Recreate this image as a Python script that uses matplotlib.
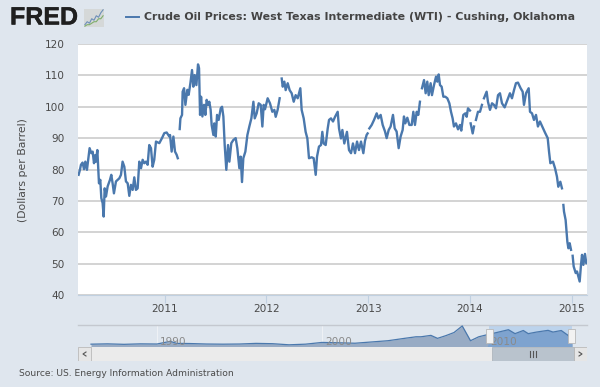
#!/usr/bin/env python3

import matplotlib
matplotlib.use("Agg")
import matplotlib.patheffects as pe
import matplotlib.pyplot as plt
from matplotlib.patches import Rectangle
import numpy as np

W, H = 600, 387
BG = "#dfe6ee"
LINE = "#4a78ad"
GRID = "#c8c8c8"
AXIS = "#c0d0e0"
TEXT = "#4a4a4a"

TITLE = "Crude Oil Prices: West Texas Intermediate (WTI) - Cushing, Oklahoma"
YLABEL = "(Dollars per Barrel)"
SOURCE = "Source: US. Energy Information Administration"

X_TICKS = [2011, 2012, 2013, 2014, 2015]
Y_TICKS = [40, 50, 60, 70, 80, 90, 100, 110, 120]
NAV_TICKS = [1990, 2000, 2010]

# nan where the line has a gap
YEARS_2010 = [2010.156, 2010.169, 2010.179, 2010.195, 2010.209, 2010.222, 2010.238, 2010.254, 2010.264, 2010.281,
              2010.294, 2010.307, 2010.320, 2010.326, 2010.340, 2010.349, 2010.356, 2010.369, 2010.379, 2010.392,
              2010.402, 2010.412, 2010.425, 2010.441, 2010.464, 2010.477, 2010.490, 2010.503, 2010.523, 2010.539,
              2010.556, 2010.572, 2010.588, 2010.605, 2010.621, 2010.638, 2010.654, 2010.670, 2010.687, 2010.703,
              2010.719, 2010.736, 2010.752, 2010.769, 2010.785, 2010.801, 2010.818, 2010.834, 2010.850, 2010.867,
              2010.883, 2010.899, 2010.916, 2010.949, 2010.975, 2010.998, 2011.021, 2011.047, 2011.054, 2011.070,
              2011.087, 2011.103, 2011.119, 2011.130, 2011.140]
PRICES_2010 = [78.3, 79.9, 81.5, 82.2, 80.1, 82.5, 79.9, 84.1, 86.8, 85.2,
               85.7, 82.0, 84.6, 82.5, 86.2, 79.9, 75.6, 76.7, 70.9, 69.3,
               65.0, 74.0, 71.4, 74.6, 76.7, 78.3, 75.6, 72.4, 76.2, 76.7,
               77.2, 78.3, 82.5, 80.9, 76.2, 75.6, 71.6, 75.1, 73.5, 77.5,
               73.5, 74.0, 82.5, 80.4, 83.1, 82.0, 82.5, 81.5, 87.8, 86.8,
               80.9, 83.1, 88.9, 88.4, 90.0, 91.6, 91.8, 90.5, 91.0, 85.7,
               90.5, 85.7, 84.7, 83.6, np.nan]

YEARS_2011 = [2011.149, 2011.156, 2011.172, 2011.178, 2011.192, 2011.205, 2011.224, 2011.237, 2011.254, 2011.270,
              2011.283, 2011.296, 2011.313, 2011.329, 2011.339, 2011.349, 2011.359, 2011.372, 2011.388, 2011.401,
              2011.414, 2011.427, 2011.440, 2011.453, 2011.463, 2011.480, 2011.489, 2011.503, 2011.516, 2011.532,
              2011.552, 2011.565, 2011.578, 2011.591, 2011.607, 2011.624, 2011.637, 2011.656, 2011.676, 2011.699,
              2011.715, 2011.735, 2011.748, 2011.761, 2011.774, 2011.794, 2011.814, 2011.833, 2011.853, 2011.873,
              2011.886, 2011.905, 2011.925, 2011.945, 2011.961, 2011.974, 2011.987, 2012.013, 2012.036, 2012.059,
              2012.079, 2012.092, 2012.111, 2012.131, 2012.141]
PRICES_2011 = [92.9, 96.3, 97.4, 104.8, 105.9, 100.6, 105.4, 103.8, 107.5, 111.7,
               106.4, 110.1, 106.9, 113.5, 112.3, 97.4, 103.2, 96.9, 100.6, 97.4,
               102.2, 100.6, 101.6, 99.0, 94.2, 91.0, 94.7, 90.5, 97.4, 95.8,
               99.5, 100.0, 96.9, 87.8, 79.9, 87.8, 82.5, 88.4, 89.4, 90.0,
               86.8, 80.4, 84.1, 76.0, 83.6, 85.7, 91.0, 93.7, 96.3, 101.6,
               96.3, 97.9, 101.1, 100.6, 93.7, 100.6, 99.2, 102.7, 101.1, 98.4,
               99.0, 96.8, 99.0, 102.7, np.nan]

YEARS_2012 = [2012.151, 2012.161, 2012.177, 2012.190, 2012.210, 2012.229, 2012.249, 2012.269, 2012.288, 2012.308,
              2012.334, 2012.347, 2012.367, 2012.386, 2012.403, 2012.419, 2012.445, 2012.465, 2012.485, 2012.498,
              2012.517, 2012.537, 2012.550, 2012.563, 2012.583, 2012.603, 2012.616, 2012.635, 2012.655, 2012.675,
              2012.701, 2012.714, 2012.733, 2012.747, 2012.766, 2012.792, 2012.812, 2012.832, 2012.851, 2012.871,
              2012.891, 2012.910, 2012.930, 2012.953, 2012.969, 2012.985, 2012.995, 2013.003]
PRICES_2012 = [109.0, 106.4, 108.0, 105.3, 107.5, 105.3, 104.3, 101.6, 103.7, 102.7,
               105.9, 99.0, 96.3, 92.0, 89.9, 83.6, 83.9, 83.6, 78.3, 84.1,
               87.3, 87.8, 92.0, 88.3, 87.8, 93.1, 95.8, 96.3, 95.3, 96.8,
               98.4, 93.1, 89.9, 92.6, 88.3, 92.0, 86.2, 85.2, 88.3, 85.2,
               88.9, 86.2, 88.9, 85.2, 89.1, 91.0, 91.5, np.nan]

YEARS_2013 = [2013.012, 2013.035, 2013.058, 2013.084, 2013.100, 2013.123, 2013.143, 2013.166, 2013.182, 2013.202,
              2013.221, 2013.244, 2013.261, 2013.280, 2013.300, 2013.319, 2013.339, 2013.352, 2013.365, 2013.385,
              2013.405, 2013.428, 2013.444, 2013.460, 2013.477, 2013.493, 2013.509, 2013.515, 2013.529, 2013.549,
              2013.565, 2013.581, 2013.595, 2013.614, 2013.627, 2013.647, 2013.667, 2013.680, 2013.693, 2013.706,
              2013.722, 2013.739, 2013.758, 2013.778, 2013.798, 2013.814, 2013.830, 2013.843, 2013.863, 2013.883,
              2013.902, 2013.915, 2013.935, 2013.955, 2013.968, 2013.981, 2014.000, 2014.004]
PRICES_2013 = [93.1, 94.2, 95.8, 97.9, 96.3, 97.4, 94.2, 92.1, 90.0, 92.6,
               93.7, 97.4, 93.1, 92.1, 86.8, 90.5, 92.6, 96.9, 94.7, 96.5,
               94.2, 94.2, 98.4, 94.2, 98.4, 97.4, 101.6, np.nan, 105.9, 108.5,
               104.3, 108.0, 103.7, 107.5, 103.7, 106.9, 109.6, 108.0, 110.3, 106.9,
               106.4, 103.2, 103.2, 102.7, 101.1, 98.4, 96.3, 93.7, 94.7, 92.8,
               94.2, 92.4, 97.4, 97.9, 96.8, 99.5, 98.8, np.nan]

YEARS_2014 = [2014.007, 2014.027, 2014.040, 2014.050, 2014.059, 2014.079, 2014.099, 2014.118, 2014.128, 2014.138,
              2014.164, 2014.177, 2014.197, 2014.217, 2014.236, 2014.256, 2014.276, 2014.295, 2014.315, 2014.341,
              2014.367, 2014.393, 2014.413, 2014.433, 2014.452, 2014.472, 2014.498, 2014.518, 2014.531, 2014.551,
              2014.577, 2014.590, 2014.610, 2014.629, 2014.649, 2014.668, 2014.688, 2014.737, 2014.764, 2014.777,
              2014.790, 2014.816, 2014.836, 2014.855, 2014.868, 2014.888, 2014.904, 2014.911]
PRICES_2014 = [94.7, 91.5, 93.7, np.nan, 95.8, 98.4, 98.4, 100.6, np.nan, 102.7,
               104.8, 101.6, 99.0, 101.1, 100.6, 99.5, 103.7, 104.3, 101.1, 99.8,
               102.1, 104.3, 102.7, 105.3, 107.5, 107.7, 105.9, 104.8, 100.6, 104.3,
               105.9, 98.4, 97.9, 95.8, 97.4, 93.7, 95.3, 91.8, 90.0, 85.7,
               82.0, 82.5, 80.4, 77.7, 74.5, 76.1, 74.0, np.nan]

YEARS_2015 = [2014.918, 2014.924, 2014.940, 2014.957, 2014.967, 2014.980, 2014.993, 2015.001, 2015.009, 2015.019,
              2015.039, 2015.052, 2015.078, 2015.091, 2015.101, 2015.114, 2015.130, 2015.143, 2015.150]
PRICES_2015 = [68.7, 66.6, 63.9, 57.0, 54.9, 56.5, 54.4, np.nan, 52.5, 49.1,
               47.0, 47.5, 44.3, 49.6, 52.8, 49.6, 53.1, 50.1, 50.7]

# small overview strip under the chart
NAV_YEARS = [1986.0, 1987.0, 1988.0, 1989.0, 1990.0, 1990.8, 1991.2, 1992.0, 1993.0, 1994.0,
             1995.0, 1996.0, 1997.0, 1998.0, 1999.0, 2000.0, 2001.0, 2002.0, 2003.0, 2004.0,
             2005.0, 2005.7, 2006.0, 2006.6, 2007.0, 2007.5, 2008.0, 2008.5, 2009.0, 2009.5,
             2010.0, 2010.3, 2011.3, 2011.7, 2012.2, 2012.5, 2013.0, 2013.7, 2014.0, 2014.5,
             2014.9, 2015.15]
NAV_PRICES = [18, 20, 17, 20, 19, 36, 23, 22, 19, 18,
              19, 23, 21, 14, 18, 29, 27, 24, 32, 40,
              55, 65, 65, 74, 55, 72, 92, 134, 40, 65,
              78, 85, 110, 85, 105, 85, 95, 106, 95, 105,
              75, 48]

# little logo chart next to FRED
ICON_BLUE = [1, 3, 2, 5, 4, 7, 6, 9, 11]
ICON_GREEN = [0, 1, 1, 2, 3, 3, 5, 5, 7]


def axes_at(fig, left, top, right, bottom, **kw):
    # pixel box, measured from the top left of the picture
    return fig.add_axes([left / W, 1 - bottom / H, (right - left) / W, (bottom - top) / H], **kw)


def plot_main(fig):
    ax = axes_at(fig, 78, 44, 587, 295)
    ax.set_facecolor("white")
    years = YEARS_2010 + YEARS_2011 + YEARS_2012 + YEARS_2013 + YEARS_2014 + YEARS_2015
    prices = PRICES_2010 + PRICES_2011 + PRICES_2012 + PRICES_2013 + PRICES_2014 + PRICES_2015
    ax.plot(years, prices, color=LINE, lw=1.7, solid_joinstyle="round", zorder=3)

    ax.set_xlim(2010.15, 2015.15)
    ax.set_ylim(40, 120)
    ax.set_xticks(X_TICKS)
    ax.set_yticks(Y_TICKS)
    ax.grid(axis="y", color=GRID, lw=1.1)
    ax.set_axisbelow(True)
    for s in ["top", "left", "right"]:
        ax.spines[s].set_visible(False)
    ax.spines["bottom"].set_color(AXIS)
    ax.tick_params(axis="x", length=5.5, width=0.8, color=AXIS, labelcolor=TEXT, labelsize=7.6, pad=1)
    ax.tick_params(axis="y", length=0, labelcolor=TEXT, labelsize=7.6, pad=9.5)
    fig.text(23 / W, 1 - 170 / H, YLABEL, rotation=90, ha="center", va="center", fontsize=7.8, color=TEXT)


def plot_navigator(fig):
    ax = axes_at(fig, 78, 325, 587, 347)
    ax.set_facecolor(BG)
    x0 = 1986.0 - 13 / 16.5
    ax.set_xlim(x0, x0 + 509 / 16.5)
    ax.set_ylim(0, 140)
    ax.axvspan(2010.15, 2015.15, color="#bcd3ec", lw=0, zorder=0)
    for t in NAV_TICKS[:2]:
        ax.axvline(t, color="#eef1f5", lw=0.8, zorder=1)
    nx = np.array(NAV_YEARS)
    ny = np.array(NAV_PRICES)
    ax.fill_between(nx, 0, ny, color="#98abc4", lw=0, zorder=2)
    ax.fill_between(nx, 0, ny, where=nx >= 2010.15, interpolate=True, color="#7ea3cf", lw=0, zorder=2)
    ax.plot(nx, ny, color=LINE, lw=0.9, zorder=3)
    for t in NAV_TICKS:
        ax.text(t + 0.2, 30, str(t), color="#8a8a8a", fontsize=7.6, va="center", zorder=4)
    ax.set_xticks([])
    ax.set_yticks([])
    for s in ["left", "right", "bottom"]:
        ax.spines[s].set_visible(False)
    ax.spines["top"].set_color("#c4c8cf")
    ax.spines["top"].set_linewidth(1.0)
    # drag handles
    for t in [2010.15, 2015.15]:
        px = (t - x0) * 16.5 / 509
        ax.add_patch(Rectangle((px - 3.5 / 509, 0.2), 7 / 509, 0.62, transform=ax.transAxes,
                               fc="#f2f2f2", ec="#b8b8b8", lw=0.6, zorder=5, clip_on=False))

    bar = axes_at(fig, 78, 347, 587, 361)
    bar.set_xlim(78, 587)
    bar.set_ylim(361, 347)
    bar.axis("off")
    bar.add_patch(Rectangle((78, 347), 509, 14, fc="#ebebeb", lw=0))
    bar.add_patch(Rectangle((492, 347), 82, 14, fc="#b9c3cd", ec="#a8b0b8", lw=0.5))
    bar.add_patch(Rectangle((78, 347), 13, 14, fc="#e6e6e6", ec="#b0b0b0", lw=0.5))
    bar.add_patch(Rectangle((574, 347), 13, 14, fc="#e6e6e6", ec="#b0b0b0", lw=0.5))
    bar.plot([86, 83, 86], [352, 354, 356], color="#555555", lw=0.8)
    bar.plot([579, 582, 579], [352, 354, 356], color="#555555", lw=0.8)
    for px in [530, 533, 536]:
        bar.plot([px, px], [351, 357], color="#555555", lw=0.8)


def plot_header(fig):
    fig.text(10 / W, 1 - 17.5 / H, "FRED", family="Liberation Sans", weight="bold", fontsize=18,
             color="#1f1f1f", va="center", ha="left",
             path_effects=[pe.withStroke(linewidth=0.3, foreground="#1f1f1f")])
    fig.lines.append(plt.Line2D([126 / W, 139 / W], [1 - 17 / H, 1 - 17 / H], color=LINE, lw=1.4,
                                transform=fig.transFigure, figure=fig))
    fig.text(144 / W, 1 - 17 / H, TITLE, weight="bold", fontsize=7.88, color="#444444", va="center", ha="left")
    fig.text(19 / W, 1 - 374 / H, SOURCE, fontsize=6.6, color=TEXT, va="center", ha="left")

    icon = axes_at(fig, 84, 9, 104, 27)
    icon.set_facecolor("#d5d8d8")
    icon.plot(ICON_BLUE, color="#6d8fb8", lw=0.8)
    icon.plot(ICON_GREEN, color="#7fae6b", lw=0.8)
    icon.set_xticks([])
    icon.set_yticks([])
    for s in icon.spines.values():
        s.set_visible(False)


def main():
    fig = plt.figure(figsize=(W / 100, H / 100), dpi=100, facecolor=BG)
    plot_main(fig)
    plot_navigator(fig)
    plot_header(fig)
    fig.savefig("out.png", dpi=100, facecolor=BG)


if __name__ == "__main__":
    main()
